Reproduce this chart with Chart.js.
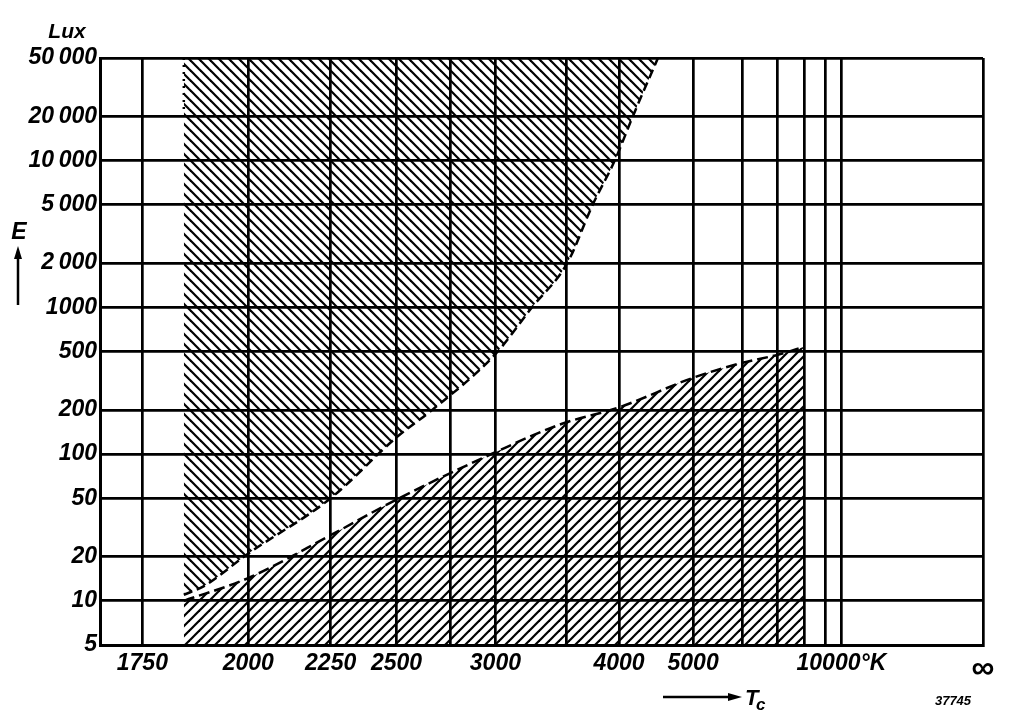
<!DOCTYPE html>
<html>
<head>
<meta charset="utf-8">
<title>E vs Tc</title>
<script src="https://cdn.jsdelivr.net/npm/chart.js@4"></script>
<style>
  html, body { margin: 0; padding: 0; background: #fff; }
  #wrap { width: 1024px; height: 723px; position: relative; }
</style>
</head>
<body>
<div id="wrap"><canvas id="chart"></canvas></div>
<script>
// colour temperature grid (K) and illuminance grid (lux)
const gridTemps = [1750, 2000, 2250, 2500, 2750, 3000, 3500, 4000, 5000, 6000, 7000, 8000, 9000, 10000];
const gridTempLabels = ['1750', '2000', '2250', '2500', '', '3000', '', '4000', '5000', '', '', '', '', '10000°K'];
const luxTicks = [5, 10, 20, 50, 100, 200, 500, 1000, 2000, 5000, 10000, 20000, 50000];
const luxLabels = ['5', '10', '20', '50', '100', '200', '500', '1000', '2\u2009000', '5\u2009000', '10\u2009000', '20\u2009000', '50\u2009000'];

// upper hatched zone, boundary curve
const upperTemp = [1840, 1885, 2000, 2250, 2500, 2660, 3000, 3240, 3510, 3735, 3955, 4155, 4470];
const upperLux = [11, 12.5, 21, 50, 130, 200, 480, 1000, 2000, 5000, 10000, 20000, 50000];

// lower hatched zone, boundary curve
const lowerTemp = [1840, 2000, 2250, 2500, 3000, 3450, 4000, 5000, 6000, 7000, 8000];
const lowerLux = [10, 14.3, 28, 49, 103, 159, 208, 331, 419, 475, 538];

// dotted left edge of the upper zone
const dottedTemp = [1840, 1840];
const dottedLux = [50000, 22000];

// the x axis is linear in reciprocal temperature (mired)
const mired = t => 1e6 / t;
const xMin = 4.5, xMax = 600;

const FONT = "'Liberation Sans', Arial, sans-serif";

function makeHatch(dir) {
  const s = 10;
  const c = document.createElement('canvas');
  c.width = s; c.height = s;
  const g = c.getContext('2d');
  g.strokeStyle = '#000';
  g.lineWidth = 2.2;
  g.lineCap = 'square';
  for (let k = -s; k <= s; k += s) {
    g.beginPath();
    if (dir === 'back') {
      g.moveTo(k, 0); g.lineTo(k + s, s);
    } else {
      g.moveTo(k, s); g.lineTo(k + s, 0);
    }
    g.stroke();
  }
  return g.createPattern(c, 'repeat');
}

function toPoints(temps, lux) {
  return temps.map((t, i) => ({ x: mired(t), y: lux[i] }));
}

// extra labels round the plot
const annotations = {
  id: 'annotations',
  afterDraw(chart) {
    const c = chart.ctx;
    c.save();
    c.fillStyle = '#000';
    c.strokeStyle = '#000';
    c.textBaseline = 'alphabetic';

    c.font = "italic bold 21px " + FONT;
    c.textAlign = 'center';
    c.fillText('Lux', 67, 38);
    c.font = "italic bold 23px " + FONT;
    c.fillText('E', 19, 239);

    // up arrow under E
    c.lineWidth = 2.5;
    c.beginPath(); c.moveTo(18, 305); c.lineTo(18, 255); c.stroke();
    c.beginPath(); c.moveTo(18, 246); c.lineTo(14, 259); c.lineTo(22, 259); c.closePath(); c.fill();

    // right arrow before Tc
    c.beginPath(); c.moveTo(663, 697); c.lineTo(730, 697); c.stroke();
    c.beginPath(); c.moveTo(742, 697); c.lineTo(728, 693); c.lineTo(728, 701); c.closePath(); c.fill();

    c.textAlign = 'left';
    c.font = "italic bold 22px " + FONT;
    c.fillText('T', 745, 705);
    c.font = "italic bold 17px " + FONT;
    c.fillText('c', 756, 710);

    c.textAlign = 'center';
    c.font = "italic bold 13px " + FONT;
    c.fillText('37745', 953, 705);
    c.restore();
  }
};

const tickFont = { family: FONT, size: 23, style: 'italic', weight: 'bold' };

const ctx = document.getElementById('chart').getContext('2d');
new Chart(ctx, {
  type: 'line',
  data: {
    datasets: [
      {
        label: 'upper',
        data: toPoints(upperTemp, upperLux),
        borderColor: '#000',
        borderWidth: 2.5,
        borderDash: [9, 5],
        backgroundColor: makeHatch('back'),
        fill: 'end',
        pointRadius: 0,
        cubicInterpolationMode: 'monotone'
      },
      {
        label: 'lower',
        data: toPoints(lowerTemp, lowerLux),
        borderColor: '#000',
        borderWidth: 2.5,
        borderDash: [11, 5],
        backgroundColor: makeHatch('fwd'),
        fill: 'start',
        pointRadius: 0,
        cubicInterpolationMode: 'monotone'
      },
      {
        label: 'edge',
        data: toPoints(dottedTemp, dottedLux),
        borderColor: '#000',
        borderWidth: 2.5,
        borderDash: [2, 5],
        fill: false,
        pointRadius: 0
      }
    ]
  },
  options: {
    responsive: true,
    maintainAspectRatio: false,
    animation: false,
    layout: { padding: { top: 58, right: 41, left: 0, bottom: 0 } },
    plugins: {
      legend: { display: false },
      tooltip: { enabled: false }
    },
    scales: {
      x: {
        type: 'linear',
        reverse: true,
        min: xMin,
        max: xMax,
        afterBuildTicks: scale => {
          scale.ticks = gridTemps.map(t => ({ value: mired(t) })).concat([{ value: xMin }]);
        },
        afterFit: scale => { scale.height = 78; },
        ticks: {
          autoSkip: false,
          maxRotation: 0,
          padding: 5,
          color: '#000',
          font: c => (c.index >= gridTempLabels.length
            ? { family: FONT, size: 32, weight: 'bold' }
            : tickFont),
          callback: (v, i) => (i < gridTempLabels.length ? gridTempLabels[i] : '∞')
        },
        grid: { color: '#000', lineWidth: 2.7, drawTicks: false },
        border: { color: '#000', width: 3 }
      },
      y: {
        type: 'logarithmic',
        min: 5,
        max: 50000,
        afterBuildTicks: scale => {
          scale.ticks = luxTicks.map(v => ({ value: v }));
        },
        afterFit: scale => { scale.width = 100; },
        ticks: {
          autoSkip: false,
          padding: 3,
          color: '#000',
          font: tickFont,
          callback: (v, i) => luxLabels[i]
        },
        grid: { color: '#000', lineWidth: 2.7, drawTicks: false },
        border: { color: '#000', width: 3 }
      }
    }
  },
  plugins: [annotations]
});
</script>
</body>
</html>
